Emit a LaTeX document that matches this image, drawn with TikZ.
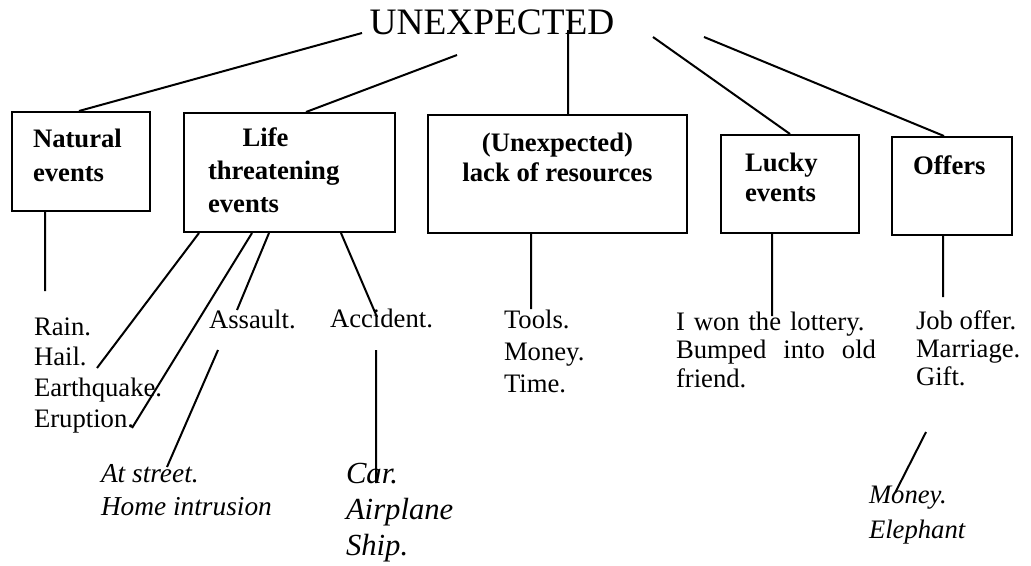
\documentclass[tikz,border=0pt]{standalone}
\usepackage{fontspec}
\setmainfont{Liberation Serif}
\usetikzlibrary{positioning,fit,calc}

\begin{document}
\begin{tikzpicture}[x=0.75pt,y=-0.75pt,line width=1.5pt,
    catbox/.style={draw,rectangle,inner sep=0pt},
    cattext/.style={font=\fontsize{20}{25}\selectfont\bfseries,inner sep=0pt,align=left},
    item/.style={font=\fontsize{20}{23}\selectfont,inner sep=0pt,align=left,anchor=base west},
    subitem/.style={font=\fontsize{20}{25}\selectfont\itshape,inner sep=0pt,align=left,anchor=base west}]
    \useasboundingbox (0,0) rectangle (1031,565);

       \node[font=\fontsize{28}{30}\selectfont,inner sep=0pt,anchor=base] (unexp) at (492,34) {UNEXPECTED};
        \coordinate (t_1) at (362,33);
        \coordinate (t_2) at (457,55);
        \coordinate (t_3) at (568,30);
        \coordinate (t_4) at (653,37);
        \coordinate (t_5) at (704,37);

        % the five categories
        \node[catbox,fit={(12,112)(150,211)}] (nat) {};
        \node[catbox,fit={(184,113)(395,232)}] (life) {};
        \node[catbox,fit={(428,115)(687,233)}] (lack) {};
        \node[catbox,fit={(721,135)(859,233)}] (luck) {};
        \node[catbox,fit={(892,137)(1012,235)}] (offer) {};

        % (base of a text of several lines = its last line)
        \node[cattext,anchor=base west,font=\fontsize{20}{25.5}\selectfont\bfseries] (nat_t) at ($(nat.north west)+(21,70)$) {Natural\\events};
        \node[cattext,anchor=base west,font=\fontsize{20}{24.4}\selectfont\bfseries] (life_t) at ($(life.north west)+(24,100)$) {\hspace*{26pt}Life\\threatening\\events};
        \node[cattext,anchor=base,align=center,font=\fontsize{20}{22.5}\selectfont\bfseries] (lack_t) at ($(lack.north)+(0,67)$) {(Unexpected)\\lack of resources};
        \node[cattext,anchor=base west,font=\fontsize{20}{22.5}\selectfont\bfseries] (luck_t) at ($(luck.north west)+(24,67)$) {Lucky\\events};
        \node[cattext,anchor=base west] (offer_t) at ($(offer.north west)+(21,38)$) {Offers};

        % examples
        \node[item] (nat_l) at (33,427) {Rain.\\Hail.\\Earthquake.\\Eruption.};
        \node[item] (assault) at (208,328) {Assault.};
        \node[item] (accident) at (329,327) {Accident.};
        \node[subitem,font=\fontsize{20.5}{24.75}\selectfont\itshape] (street) at (100,515) {At street.\\Home intrusion};
        \node[subitem,font=\fontsize{23}{27}\selectfont\itshape] (vehicle) at (345,555) {Car.\\Airplane\\Ship.};
        \node[item,font=\fontsize{20}{24}\selectfont] (lack_l) at (503,392) {Tools.\\Money.\\Time.};
        % (with a text width the base is the first line)
        \node[item,font=\fontsize{20}{21.5}\selectfont,text width=150pt] (luck_l) at (675,330) {I won the lottery.\\Bumped\hfill into\hfill old\\friend.};
        \node[item,font=\fontsize{20}{21}\selectfont] (offer_l) at (915,385) {Job offer.\\Marriage.\\Gift.};
        \node[subitem,font=\fontsize{20}{26}\selectfont\itshape] (gift) at (868,538) {Money.\\Elephant};

        \path[draw]
        (t_1) -- ($(nat.north west)+(68,0)$)
        (t_2) -- ($(life.north west)+(123,0)$)
        (t_3) -- (t_3 |- lack.north)
        (t_4) -- (luck.north)
        (t_5) -- ($(offer.north west)+(53,0)$)
        ($(nat.south west)+(34,0)$) -- ++(0,79)
        ($(life.south west)+(16,0)$) -- ($(nat_l.base west)+(64,-59)$)
        ($(life.south west)+(69,0)$) -- ($(nat_l.base west)+(99,1)$)
        ($(life.south west)+(86,0)$) -- ($(assault.base west)+(29,-18)$)
        ($(life.south west)+(158,0)$) -- ($(accident.base west)+(48,-10)$)
        ($(assault.base west)+(10,22)$) -- ($(street.base west)+(67,-48)$)
        ($(accident.base west)+(47,23)$) -- ($(vehicle.base west)+(31,-72)$)
        ($(lack.south west)+(104,0)$) -- ++(0,75)
        ($(luck.south west)+(52,0)$) -- ++(0,82)
        ($(offer.south west)+(52,0)$) -- ++(0,61)
        ($(offer_l.base west)+(11,47)$) -- ($(gift.base west)+(27,-45)$)
        ;
    \end{tikzpicture}
\end{document}
